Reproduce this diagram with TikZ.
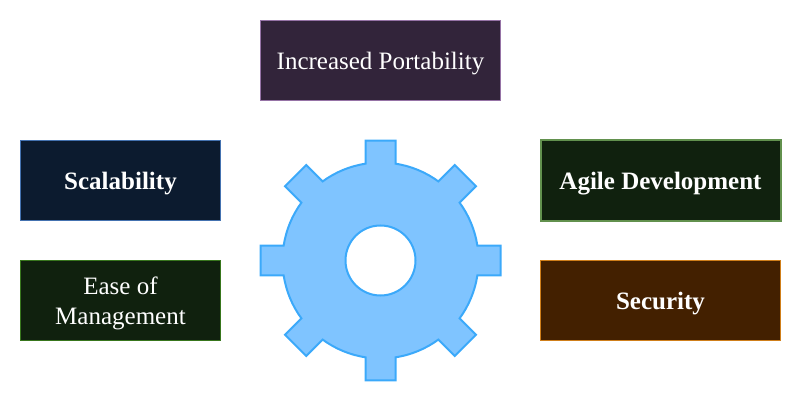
\documentclass[tikz,border=0pt]{standalone}
\usepackage{fontspec}
\setmainfont{Liberation Serif}
\tikzset{
  infobox/.style={draw, line width=1pt, minimum width=#1, minimum height=80pt, inner sep=0pt,
    text=white, align=center, font=\fontsize{25}{30}\selectfont, text height=24pt},
  infobox/.default=200pt,
  gearshape/.style={draw=gearline, fill=gearfill, line width=2pt, even odd rule, line join=miter}
}
\definecolor{gearline}{HTML}{3BA9FA}
\definecolor{gearfill}{HTML}{7FC4FF}
\begin{document}
\begin{tikzpicture}[x=1pt,y=1pt]
\useasboundingbox (0,0) rectangle (802,402);
\node[infobox=240pt, draw={rgb,255:red,150;green,115;blue,166}, fill={rgb,255:red,50;green,36;blue,58}] (portability) at (380.5,341.5) {Increased Portability};
\node[infobox, draw={rgb,255:red,68;green,114;blue,176}, fill={rgb,255:red,12;green,27;blue,47}] (scalability) at (120.5,221.5) {\textbf{Scalability}};
\node[infobox, text height=54pt, draw={rgb,255:red,56;green,118;blue,29}, fill={rgb,255:red,16;green,33;blue,14}] (management) at (120.5,101.5) {Ease of\\Management};
\node[infobox=240pt, line width=2pt, draw={rgb,255:red,98;green,145;blue,78}, fill={rgb,255:red,16;green,33;blue,14}] (agile) at (660.5,221.5) {\textbf{Agile Development}};
\node[infobox=240pt, draw={rgb,255:red,208;green,127;blue,26}, fill={rgb,255:red,67;green,32;blue,0}] (security) at (660.5,101.5) {\textbf{Security}};
% gear
\begin{scope}[shift={(380.5,141.5)}]
\draw[gearshape] (-8.804:98)
  \foreach \ang in {0,45,...,315} {
    -- (\ang-8.804:98) -- (\ang-7.125:120.93) -- (\ang+7.125:120.93) -- (\ang+8.804:98)
    arc[start angle=\ang+8.804, end angle=\ang+36.196, radius=98pt]
  } -- cycle
  (0,0) circle (35pt);
\end{scope}
\end{tikzpicture}
\end{document}
